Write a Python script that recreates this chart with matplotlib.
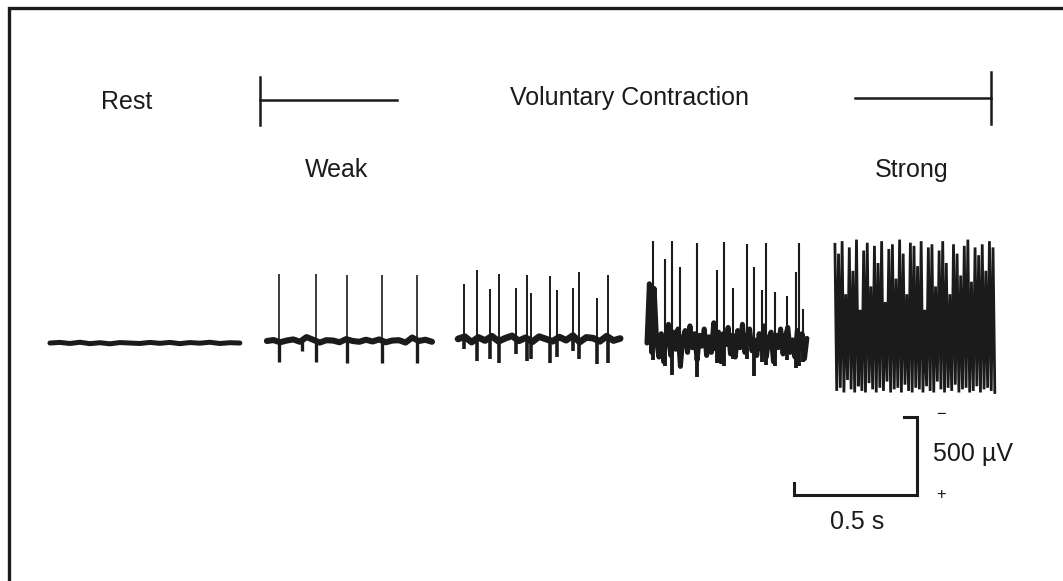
import numpy as np
import matplotlib
matplotlib.use("Agg")
import matplotlib.pyplot as plt
from matplotlib.lines import Line2D

plt.rcParams["font.family"] = ["Liberation Sans", "DejaVu Sans"]

# ---- EMG sweeps: amplitudes in microvolts, times in seconds within each sweep ----
REST_DUR = 0.772
REST_RIPPLE = [0, 4, -3, 5, -4, 2, -5, 3, 0, -3, 4, -2, 4, -4, 3, -1, 5, -3, 2, 0]

WEAK1_DUR = 0.671
WEAK1_RIPPLE = [0, 6, -8, 3, 10, -5, 25, 8, -10, 5, 3, -8, 12, 0, -5, 8, -3, 10,
                -8, 3, 5, -10, 22, 0, 8, -5]
WEAK1_SPIKE_T = [0.049, 0.199, 0.325, 0.467, 0.610]
WEAK1_SPIKE_PEAK = [430, 430, 425, 425, 420]
WEAK1_SPIKE_TROUGH = [-135, -135, -140, -138, -138]
WEAK1_MINOR_T = [0.141]
WEAK1_MINOR_TROUGH = [-65]

WEAK2_DUR = 0.659
WEAK2_RIPPLE = [0, 15, -20, 10, -10, 18, -15, 5, 20, -12, 8, -18, 15, 0, -15, 12, -8,
                22, -20, 10, 5, -15, 18, -10, 3]
WEAK2_SPIKE_T = [0.024, 0.078, 0.130, 0.167, 0.235, 0.279, 0.297, 0.374, 0.404, 0.466,
                 0.491, 0.565, 0.609]
WEAK2_SPIKE_PEAK = [350, 440, 320, 415, 325, 408, 297, 404, 312, 325, 431, 265, 408]
WEAK2_SPIKE_TROUGH = [-64, -140, -128, -154, -96, -140, -128, -154, -115, -75, -128,
                      -160, -154]

MOD_DUR = 0.650
MOD_RIPPLE = [0, 380, -60, 350, 20, -90, 60, -120, 40, 120, -80, 70, -40, 90, -150, 30,
              80, -60, 110, -30, 60, -110, 50, -20, 90, -80, 40, -60, 130, -40, 70, -120,
              60, -10, 100, -70, 50, -90, 80, -30, 120, -60, 40, 90, -50, 20, -80, 60,
              -40, 110, -90, 30, 70, -120, 50, -30, 90, -70, 40, 100, -60, 20, -90, 80,
              -40, 60, -100, 30]
MOD_SPIKE_T = [0.024, 0.073, 0.102, 0.134, 0.203, 0.285, 0.313, 0.350, 0.407, 0.435,
               0.467, 0.484, 0.520, 0.569, 0.606, 0.618, 0.634]
MOD_SPIKE_PEAK = [655, 540, 655, 490, 640, 470, 650, 350, 635, 490, 340, 640, 330, 300,
                  455, 640, 220]
MOD_SPIKE_TROUGH = [-110, -150, -205, -120, -218, -130, -150, -100, -100, -210, -120,
                    -140, -150, -110, -160, -150, -120]

STRONG_DUR = 0.650
STRONG_PEAKS = [620, 560, 640, 300, 600, 450, 650, 200, 580, 630, 350, 610, 500, 640, 250,
                590, 620, 400, 650, 560, 300, 630, 610, 480, 640, 200, 600, 620, 350, 580,
                640, 500, 300, 620, 560, 420, 610, 650, 380, 600, 550, 620, 450, 640, 600]
STRONG_TROUGHS = [-320, -300, -330, -250, -310, -330, -290, -320, -330, -270, -310, -330,
                  -300, -320, -260, -330, -310, -300, -330, -280, -320, -330, -300, -310,
                  -330, -290, -320, -330, -260, -310, -330, -300, -320, -280, -330, -310,
                  -300, -330, -320, -290, -330, -310, -300, -320, -330]

# Calibration bar
CAL_TIME = 0.5      # s
CAL_AMP = 500       # microvolts

# ---- page geometry ----
W, H = 1063, 581
PX_PER_S = 246.0
UV_PER_PX = 500.0 / 78.0
BASE_PX = 341  # vertical pixel row of the zero line

INK = "#1b1b1b"

fig = plt.figure(figsize=(W / 100, H / 100), dpi=100)
ax = fig.add_axes([0, 0, 1, 1])
ax.set_axis_off()
ax.set_xlim(0, W / PX_PER_S)
ax.set_ylim(-(H - BASE_PX) * UV_PER_PX, BASE_PX * UV_PER_PX)

# sweep start times on the page and small baseline offsets
starts = {"rest": 0.203, "weak1": 1.085, "weak2": 1.862, "mod": 2.630, "strong": 3.394}
offsets = {"rest": -13, "weak1": 0, "weak2": 13, "mod": -13, "strong": 0}


def ripple(key, dur, values, lw):
    t = starts[key] + np.linspace(0, dur, len(values))
    ax.plot(t, np.asarray(values) + offsets[key], color=INK, lw=lw,
            solid_capstyle="round", solid_joinstyle="round")


def spikes(key, times, peaks, troughs, lw_up, lw_down):
    t = starts[key] + np.asarray(times)
    b = offsets[key]
    ax.vlines(t, b, np.asarray(peaks) + b, color=INK, lw=lw_up)
    ax.vlines(t, b, np.asarray(troughs) + b, color=INK, lw=lw_down)


# Rest
ripple("rest", REST_DUR, REST_RIPPLE, 3.6)

# Weak contraction, single unit
ripple("weak1", WEAK1_DUR, WEAK1_RIPPLE, 4.4)
spikes("weak1", WEAK1_SPIKE_T, WEAK1_SPIKE_PEAK, WEAK1_SPIKE_TROUGH, 1.2, 2.4)
spikes("weak1", WEAK1_MINOR_T, [0], WEAK1_MINOR_TROUGH, 1.2, 2.4)

# Weak contraction, more units
ripple("weak2", WEAK2_DUR, WEAK2_RIPPLE, 4.8)
spikes("weak2", WEAK2_SPIKE_T, WEAK2_SPIKE_PEAK, WEAK2_SPIKE_TROUGH, 1.4, 2.6)

# Moderate contraction
ripple("mod", MOD_DUR, MOD_RIPPLE, 3.6)
spikes("mod", MOD_SPIKE_T, MOD_SPIKE_PEAK, MOD_SPIKE_TROUGH, 1.5, 2.8)

# Strong contraction: interference pattern
strong_vals = np.ravel(np.column_stack([STRONG_PEAKS, STRONG_TROUGHS]))
strong_t = starts["strong"] + np.linspace(0, STRONG_DUR, len(strong_vals))
ax.plot(strong_t, strong_vals + offsets["strong"], color=INK, lw=2.0,
        solid_joinstyle="miter")

# Calibration bar
cx0 = 794 / PX_PER_S
cy0 = (BASE_PX - 495) * UV_PER_PX
tick = 12 * UV_PER_PX
hook = 13 / PX_PER_S
ax.plot([cx0, cx0, cx0 + CAL_TIME, cx0 + CAL_TIME, cx0 + CAL_TIME - hook],
        [cy0 + tick, cy0, cy0, cy0 + CAL_AMP, cy0 + CAL_AMP],
        color=INK, lw=2.2, solid_joinstyle="miter")


def fx(px):
    return px / W


def fy(py):
    return 1 - py / H


# Page frame (open to the right and bottom)
fig.add_artist(Line2D([fx(9), fx(9), 1.0], [0.0, fy(8), fy(8)], color=INK, lw=2.4,
                      solid_joinstyle="miter"))

# Contraction bracket
fig.add_artist(Line2D([fx(260), fx(260)], [fy(77), fy(125)], color=INK, lw=1.8))
fig.add_artist(Line2D([fx(260), fx(397)], [fy(100), fy(100)], color=INK, lw=1.8))
fig.add_artist(Line2D([fx(855), fx(991)], [fy(98), fy(98)], color=INK, lw=1.8))
fig.add_artist(Line2D([fx(991), fx(991)], [fy(72), fy(124)], color=INK, lw=1.8))

txt = dict(color=INK, fontsize=18)
fig.text(fx(127), fy(109), "Rest", ha="center", va="baseline", **txt)
fig.text(fx(629), fy(105), "Voluntary Contraction", ha="center", va="baseline", **txt)
fig.text(fx(337), fy(177), "Weak", ha="center", va="baseline", **txt)
fig.text(fx(912), fy(177), "Strong", ha="center", va="baseline", **txt)
fig.text(fx(933), fy(461), "500 \u00b5V", ha="left", va="baseline", **txt)
fig.text(fx(857), fy(529), "0.5 s", ha="center", va="baseline", **txt)
fig.text(fx(941), fy(414), "\u2212", ha="center", va="center", color=INK, fontsize=12)
fig.text(fx(941), fy(494), "+", ha="center", va="center", color=INK, fontsize=12)

fig.savefig("out.png", dpi=100, facecolor="white")
